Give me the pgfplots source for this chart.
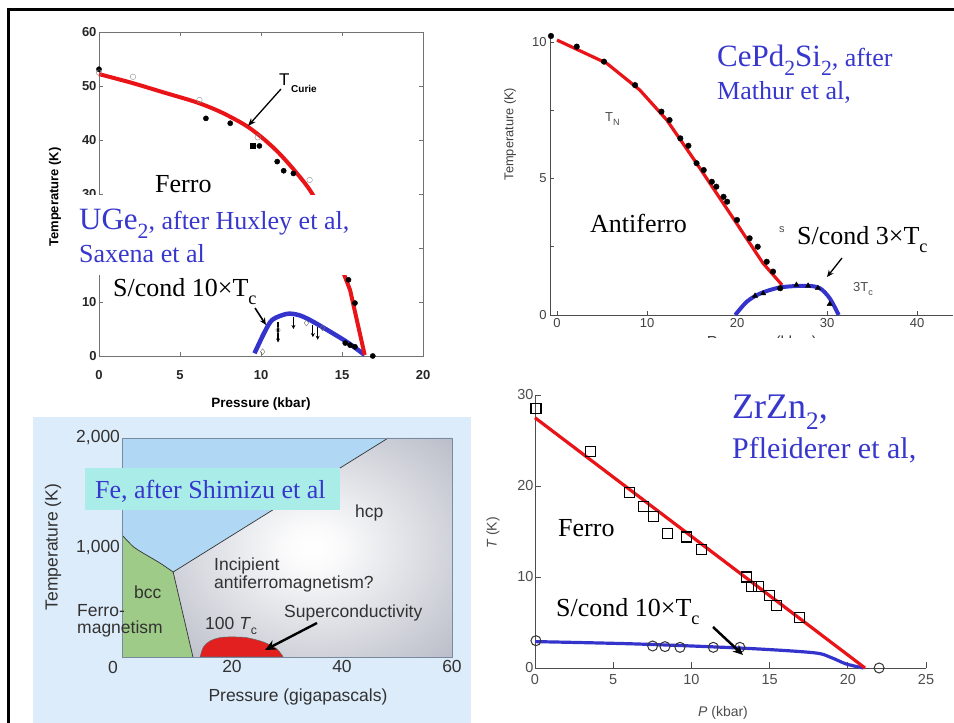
\documentclass[border=0pt]{standalone}
\usepackage{fontspec}
\setmainfont{Liberation Serif}
\setsansfont{Liberation Sans}
\usepackage{pgfplots}
\pgfplotsset{compat=1.18}
\usetikzlibrary{arrows.meta}

\definecolor{annoblue}{RGB}{55,55,205}
\definecolor{curvered}{RGB}{232,20,24}
\definecolor{curveblue}{RGB}{52,52,205}
\definecolor{pagebg}{RGB}{221,236,250}
\definecolor{feblue}{RGB}{176,215,243}
\definecolor{fegreen}{RGB}{159,203,136}
\definecolor{hcpgray}{RGB}{156,160,176}
\definecolor{fered}{RGB}{226,32,32}
\definecolor{fecyan}{RGB}{169,236,232}
\definecolor{feframe}{RGB}{120,138,160}
\definecolor{fetext}{RGB}{50,50,50}

\pgfdeclareradialshading{hcpglow}{\pgfpoint{0bp}{0bp}}{color(0bp)=(white); color(5bp)=(white!95!hcpgray); color(50bp)=(hcpgray)}

\newcommand{\fs}[1]{\fontsize{#1bp}{#1bp}\selectfont}
\newcommand{\sub}[1]{\raisebox{-0.28em}{\scalebox{0.7}{#1}}}

\begin{document}
\begin{tikzpicture}[x=1bp,y=1bp]

% light panel behind the iron diagram
\fill[pagebg] (33,0) rectangle (471,306);

% ---------------- UGe2 ----------------
\begin{axis}[
  at={(99bp,367bp)}, anchor=south west, scale only axis,
  width=324bp, height=324bp,
  xmin=0, xmax=20, ymin=0, ymax=60,
  xtick={0,5,...,20}, ytick={0,10,...,60},
  yticklabels={0,10,,30,40,50,60},
  tick align=inside, tick pos=both, major tick length=4bp,
  axis line style={black!55, line width=0.8bp}, tick style={black!55, line width=0.8bp},
  /pgf/number format/assume math mode=true,
  ticklabel style={font=\sffamily\bfseries\fs{13}, text=black!85},
  xticklabel style={yshift=-11bp},
  yticklabel style={xshift=1bp},
  clip=false,
]
\addplot[only marks, mark=*, mark size=2.6bp, black] coordinates {
  (0,53.1) (6.6,44.0) (8.1,43.1) (9.9,38.9) (11,36.0) (11.4,34.3) (12.0,33.8)
  (15.4,14.1) (15.8,9.8) (15.2,2.4) (15.5,2.0) (15.8,1.7) (16.9,0)};
\addplot[only marks, mark=square*, mark size=2.6bp, black] coordinates {(9.5,38.9)};
\addplot[only marks, mark=o, mark size=2.8bp, black!45, fill=white] coordinates {
  (0,52.5) (2.1,51.7) (6.2,47.4) (9.8,40.5) (13.0,32.6)};
\addplot[only marks, mark=diamond, mark size=3bp, black!55, fill=white] coordinates {
  (10.1,0.8) (11.05,4.8) (12.8,6.1) (13.8,5.2)};
\addplot[black, line width=1.3bp, -{Stealth[length=4bp,width=4bp]},
  quiver={u=0, v=\thisrow{dy}}] table {
x y dy
11.05 6.3 -3.8
12.0 7.2 -2.2
13.2 5.8 -2.3
13.5 5.3 -2.3
};
\addplot[curveblue, line width=4.5bp, smooth] coordinates {
  (9.6,0.5) (10.2,4.3) (10.7,6.7) (11.6,7.8) (12.3,7.6) (13.0,6.7) (14.1,4.8) (15.3,2.6) (16.4,0.2)};
\addplot[curvered, line width=4bp, smooth] coordinates {
  (0,52.2) (2,50.6) (4,48.8) (6,47.0) (7.5,45.2) (9,42.8) (10,40.6) (11,37.9) (12,34.6) (13,30.8) (14,25.8)};
\addplot[curvered, line width=4bp] coordinates {(15.1,15.3) (15.5,12.2) (16.4,0.2)};
\end{axis}

\fill[white] (74,448) rectangle (360,528);
\fill[white] (108,411) rectangle (250,448);
\node[anchor=base west, inner sep=0] at (155,530) {\fs{26}Ferro};
\node[anchor=base west, inner sep=0, text=annoblue] at (79,493) {\fs{31}UGe\sub{2}\fs{26}, after Huxley et al,};
\node[anchor=base west, inner sep=0, text=annoblue] at (79,460) {\fs{26}Saxena et al};
\node[anchor=base west, inner sep=0] at (113,426) {\fs{26}S/cond 10×T\sub{c}};
\node[inner sep=0] at (261,319) {\sffamily\bfseries\fs{13.5}Pressure (kbar)};
\node[inner sep=0, rotate=90] at (55,526) {\sffamily\bfseries\fs{13}Temperature (K)};
\node[anchor=base west, inner sep=0] at (279,637) {\sffamily\fs{17}T};
\node[anchor=base west, inner sep=0] at (291,630) {\sffamily\bfseries\fs{10}Curie};
\draw[-{Stealth[length=8bp,width=6bp]}, line width=1.3bp] (281,634) -- (248,597);
\draw[-{Stealth[length=7bp,width=6bp]}, line width=1.6bp] (255,415) -- (266,398);

% ---------------- CePd2Si2 ----------------
\begin{axis}[
  at={(550bp,408bp)}, anchor=south west, scale only axis,
  width=403bp, height=282bp,
  xmin=-0.78, xmax=44, ymin=0, ymax=10.33,
  axis x line*=bottom, axis y line*=left,
  axis line style={-, black!70, line width=0.9bp},
  xtick={0,10,...,40}, ytick={0,5,10}, minor ytick={2.5,7.5},
  tick align=inside, major tick length=4bp, minor tick length=4bp,
  tick style={black!70, line width=0.8bp},
  /pgf/number format/assume math mode=true,
  ticklabel style={font=\sffamily\fs{13}, text=black!75},
  clip=false,
]
\addplot[only marks, mark=*, mark size=2.8bp, black] coordinates {
  (-0.67,10.22) (2.19,9.83) (5.22,9.28) (8.67,8.42) (11.6,7.45) (12.5,7.14) (13.7,6.47)
  (14.6,6.20) (15.5,5.56) (16.3,5.31) (17.2,4.88) (17.7,4.70) (18.5,4.33) (18.9,4.15)
  (20.0,3.48) (21.4,2.81) (22.3,2.50) (23.3,1.95) (24.0,1.59) (24.8,0.98)};
\addplot[only marks, mark=triangle*, mark size=3bp, black] coordinates {
  (22.0,0.70) (22.9,0.79) (26.6,1.10) (27.9,1.07) (29.0,0.98) (30.3,0.40)};
\addplot[curveblue, line width=4bp, smooth] coordinates {
  (19.8,0) (21.1,0.49) (22.6,0.79) (24.8,1.01) (27.7,1.07) (29.2,0.98) (30.3,0.61) (31.3,0)};
\addplot[curvered, line width=3.2bp] coordinates {
  (0,10.07) (5.52,9.22) (9.2,8.24) (12.2,7.14) (15.5,5.56) (19.2,3.73) (22.9,1.89) (25.0,1.10)};
\end{axis}

\node[inner sep=0, rotate=90] at (510,589) {\sffamily\fs{12.8}\color{black!75}Temperature (K)};
\node[anchor=north, inner sep=0] at (762,387) {\sffamily\fs{16}\color{black!75}Pressure (kbar)};
\fill[white] (540,350) rectangle (954,384.5);
\node[anchor=base west, inner sep=0, text=annoblue] at (717,656) {\fs{31}CePd\sub{2}Si\sub{2}\fs{26}, after};
\node[anchor=base west, inner sep=0, text=annoblue] at (717,623) {\fs{26}Mathur et al,};
\node[anchor=base west, inner sep=0] at (590,490) {\fs{26}Antiferro};
\node[anchor=base west, inner sep=0] at (797,478) {\fs{26}S/cond 3×T\sub{c}};
\node[anchor=base west, inner sep=0] at (605,601) {\sffamily\fs{13}\color{black!70}T\sub{N}};
\node[anchor=base west, inner sep=0] at (779,490) {\sffamily\fs{11}\color{black!70}s};
\node[anchor=base west, inner sep=0] at (853,431) {\sffamily\fs{13}\color{black!70}3T\sub{c}};
\draw[-{Stealth[length=7bp,width=6bp]}, line width=1.3bp] (842,465) -- (827,446);

% ---------------- Fe ----------------
\begin{axis}[
  at={(122bp,66bp)}, anchor=south west, scale only axis,
  width=330bp, height=219bp,
  xmin=0, xmax=60, ymin=0, ymax=2000,
  xtick={20,40,60}, ytick={1000,2000}, yticklabels={{1,000},{2,000}},
  major tick length=0pt,
  axis line style={feframe, line width=0.9bp},
  axis background/.style={fill=feblue},
  axis on top,
  /pgf/number format/assume math mode=true,
  ticklabel style={font=\sffamily\fs{17.5}, text=fetext},
  yticklabel style={xshift=1.5bp},
]
% hcp field
\addplot[draw=none, shading=hcpglow] coordinates {
  (12.9,0) (9.3,776) (48.4,2000) (60,2000) (60,0)} -- cycle;
% bcc field
\addplot[draw=none, fill=fegreen] coordinates {
  (0,0) (0,1114) (2.06,1007) (3.8,950) (6.9,858) (9.3,776) (12.9,0)} -- cycle;
% phase boundaries
\addplot[black!80, line width=0.7bp, smooth] coordinates {
  (0,1114) (2.06,1007) (3.8,950) (6.9,858) (9.3,776)};
\addplot[black!80, line width=0.7bp] coordinates {(12.9,0) (9.3,776) (48.4,2000)};
% superconducting dome
\addplot[fill=fered, draw=black!60, line width=0.5bp, smooth] coordinates {
  (14.2,0) (14.8,91) (16.0,146) (17.8,177) (19.6,183) (22.6,177) (25.7,137) (28.1,76) (29.3,0)} -- cycle;
\end{axis}

\node[inner sep=0] at (113,56) {\sffamily\fs{17.5}\color{fetext}0};
\node[inner sep=0, rotate=90] at (53,176) {\sffamily\fs{17.5}\color{fetext}Temperature (K)};
\node[inner sep=0] at (298,26) {\sffamily\fs{17.5}\color{fetext}Pressure (gigapascals)};
\fill[fecyan] (85,213) rectangle (340,255);
\node[anchor=base west, inner sep=0, text=annoblue] at (95,224) {\fs{26}Fe, after Shimizu et al};
\begin{scope}[every node/.style={anchor=base west, inner sep=0, text=fetext, font=\sffamily\fs{17.5}}]
\node at (355,205) {hcp};
\node at (134,124) {bcc};
\node at (77,106) {Ferro-};
\node at (77,89) {magnetism};
\node at (214,152) {Incipient};
\node at (214,134) {antiferromagnetism?};
\node at (205,93) {100 \textit{T}\sub{c}};
\node at (284,105) {Superconductivity};
\end{scope}
\draw[-{Stealth[length=11bp,width=10bp]}, line width=2.4bp] (317,100) -- (265,73);

% ---------------- ZrZn2 ----------------
\begin{axis}[
  at={(535bp,55bp)}, anchor=south west, scale only axis,
  width=391bp, height=273bp,
  xmin=0, xmax=25, ymin=0, ymax=30,
  axis x line*=bottom, axis y line*=left,
  axis line style={-, black!70, line width=0.9bp},
  xtick={0,5,...,25}, ytick={0,10,20,30},
  tick align=inside, major tick length=6bp,
  tick style={black!70, line width=0.9bp},
  /pgf/number format/assume math mode=true,
  ticklabel style={font=\sffamily\fs{14.5}, text=black!70},
  xticklabel style={yshift=-3bp},
  yticklabel style={xshift=2bp},
  clip=false,
]
\addplot[only marks, mark=square, mark size=5bp, black, line width=1.1bp] coordinates {
  (0.06,28.5) (3.52,23.8) (6.07,19.3) (6.93,17.7) (7.57,16.6) (8.46,14.8) (9.70,14.4)
  (10.66,13.0) (13.5,10.0) (13.86,9.0) (14.3,9.0) (15.0,8.0) (15.45,6.9) (16.9,5.5)};
\addplot[only marks, mark=o, mark size=5bp, black!80, line width=1.0bp, fill=white] coordinates {
  (0.06,3.0) (7.52,2.42) (8.31,2.35) (9.27,2.27) (11.4,2.27) (13.1,2.27) (22.0,0)};
\addplot[curveblue, line width=3.2bp, smooth] coordinates {
  (0,2.9) (6.5,2.64) (13.5,2.16) (17.8,1.68) (18.9,1.17) (19.9,0.44) (21.0,0)};
\addplot[curvered, line width=3.2bp] coordinates {(0,27.5) (21.1,0)};
\end{axis}

\node[inner sep=0, rotate=90] at (493,190) {\sffamily\fs{14}\color{black!70}\textit{T} (K)};
\node[inner sep=0] at (723,10) {\sffamily\fs{14}\color{black!70}\textit{P} (kbar)};
\node[anchor=base west, inner sep=0, text=annoblue] at (732,304) {\fs{36}ZrZn\sub{2},};
\node[anchor=base west, inner sep=0, text=annoblue] at (732,264) {\fs{30}Pfleiderer et al,};
\node[anchor=base west, inner sep=0] at (558,186) {\fs{26}Ferro};
\node[anchor=base west, inner sep=0] at (556,106) {\fs{26}S/cond 10×T\sub{c}};
\draw[-{Stealth[length=10bp,width=9bp]}, line width=2.5bp] (713,96) -- (743,68);

% slide frame
\draw[line width=2.6bp] (7,713.5) -- (954,713.5);
\draw[line width=2.6bp] (8.5,714.8) -- (8.5,0);

\pgfresetboundingbox
\useasboundingbox (0,0) rectangle (954,723);
\end{tikzpicture}
\end{document}
